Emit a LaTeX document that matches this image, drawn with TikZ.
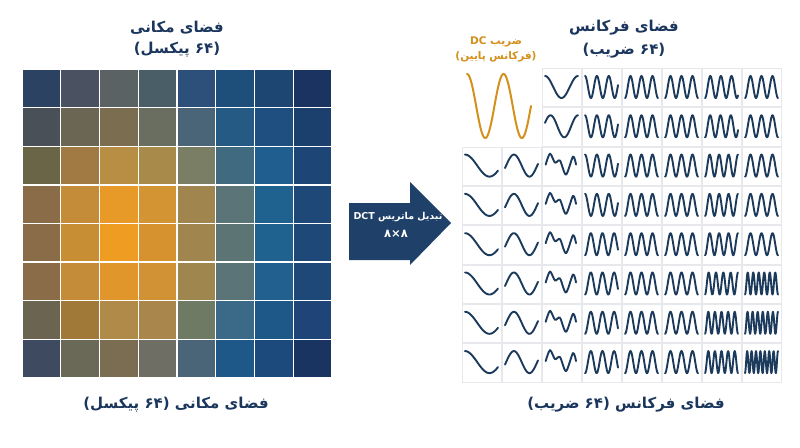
\documentclass[tikz,border=0pt]{standalone}
\usepackage{fontspec}
\TeXXeTstate=1
\newfontfamily\fa[Script=Arabic]{DejaVu Sans}
\definecolor{navy}{HTML}{1B365D}
\definecolor{wavec}{HTML}{1B3A5C}
\definecolor{arrowc}{HTML}{1F4068}
\definecolor{orng}{HTML}{D4901C}
\definecolor{cellb}{HTML}{E6E8EB}
\tikzset{
  title/.style={inner sep=0pt, text=navy, font=\fa\bfseries\fontsize{15}{17}\selectfont},
  dclabel/.style={inner sep=0pt, text=orng, font=\fa\bfseries\fontsize{10.5}{12}\selectfont},
  arrtext/.style={inner sep=0pt, text=white, font=\fa\bfseries\fontsize{9.5}{11}\selectfont},
  wave/.style={draw=wavec, line width=1.9pt, line cap=round, line join=round},
  fcell/.style={draw=cellb, line width=0.8pt, fill=white}
}
\newcommand\wv[4]{%
  \draw[wave] plot[domain=#3:#4, samples=140, smooth] ({462+40*#1+3+(\x-(#3))/((#4)-(#3))*33},{68+39.3*#2+19-11*cos(\x)});}
\newcommand\irr[2]{%
  \draw[wave] plot[smooth] coordinates {({462+40*#1+3.7},{68+39.3*#2+18}) ({462+40*#1+8},{68+39.3*#2+7}) ({462+40*#1+13},{68+39.3*#2+16}) ({462+40*#1+18},{68+39.3*#2+14}) ({462+40*#1+24},{68+39.3*#2+28}) ({462+40*#1+31},{68+39.3*#2+10}) ({462+40*#1+34},{68+39.3*#2+18})};}
\begin{document}
\begin{tikzpicture}[x=1pt,y=-1pt]
\useasboundingbox[fill=white] (0,0) rectangle (800,447);
% left pixel grid
\foreach \rowlist [count=\j from 0] in {
 {2B4262,4A5160,5A6264,4A5E68,2C5079,1E4E7A,1D4673,1A3360},
 {4A5058,6B6554,7A6D50,6A6E60,4A6478,245A84,1F4F80,1C406E},
 {6B6548,A07A42,B88D44,A88A4A,7A7E64,3F6A80,1F5E8E,1D4676},
 {8A6D48,C48C38,E89A28,D39433,A0864E,5A7478,1F6290,1D4878},
 {8A6D48,C88E34,EE9C22,D6922E,A0864E,5C7474,1F6290,1D4878},
 {8A6D48,C48C38,E0962A,D09234,9E864E,5A7478,226090,1D4878},
 {6A6450,A07838,B08A48,A8864C,6E7A64,3A6A88,1D5888,1E4478},
 {3E4A60,6A6856,7A6D52,6E6E64,4A6478,1E5888,1D4A7C,1A3462}} {
  \foreach \c [count=\i from 0] in \rowlist {
    \definecolor{cc}{HTML}{\c}
    \fill[cc] ({22+38.75*\i+0.7},{69+38.6*\j+0.7}) rectangle ++(37.35,37.2);
  }
}
% titles
\node[title] (t1) at (177,28) {\beginR فضای مکانی\endR};
\node[title] (t2) at (177,50) {\beginR (۶۴ پیکسل)\endR};
\node[title] (t3) at (624,28) {\beginR فضای فرکانس\endR};
\node[title] (t4) at (624,51) {\beginR (۶۴ ضریب)\endR};
\node[dclabel] (d1) at (496,42) {\beginR ضریب \beginL DC\endL\endR};
\node[dclabel] (d2) at (496,57) {\beginR (فرکانس پایین)\endR};
\node[title] (b1) at (176,405) {\beginR فضای مکانی (۶۴ پیکسل)\endR};
\node[title] (b2) at (626,405) {\beginR فضای فرکانس (۶۴ ضریب)\endR};
% arrow
\fill[arrowc] (349,203) -- (410,203) -- (410,182) -- (451,223) -- (410,265) -- (410,260) -- (349,260) -- cycle;
\node[arrtext] (a1) at (398,217) {\beginR تبدیل ماتریس \beginL DCT\endL\endR};
\node[arrtext, font=\fa\bfseries\fontsize{11.5}{13}\selectfont] (a2) at (396,234) {\beginR ۸×۸\endR};
% frequency cells
\foreach \j in {0,...,7} {
  \foreach \i in {0,...,7} {
    \pgfmathtruncatemacro\skipc{(\i<2)&&(\j<2)}
    \ifnum\skipc=0
      \draw[fcell] ({462+40*\i+0.5},{68+39.3*\j+0.5}) rectangle ++(39,38.3);
    \fi
  }
}
% DC wave
\draw[draw=orng, line width=2pt, line cap=round] plot[domain=0:630, samples=160, smooth] ({467+\x*0.1016},{106-32*cos(\x)});
% rows 0-1
\wv{2}{0}{0}{360}
\wv{3}{0}{0}{1000}
\wv{4}{0}{180}{1260}
\wv{5}{0}{180}{1260}
\wv{6}{0}{180}{1300}
\wv{7}{0}{180}{1260}
\wv{2}{1}{-72}{360}
\wv{3}{1}{0}{1000}
\wv{4}{1}{180}{1260}
\wv{5}{1}{180}{1260}
\wv{6}{1}{180}{1330}
\wv{7}{1}{180}{1260}
% rows 2-7
\foreach \j in {2,...,7} {
  \wv{0}{\j}{0}{243}
  \wv{1}{\j}{-103}{279}
  \irr{2}{\j}
  \wv{4}{\j}{180}{1260}
  \wv{5}{\j}{180}{1260}
}
\wv{3}{2}{0}{1000}
\wv{3}{3}{0}{1000}
\foreach \j in {4,...,7} {\wv{3}{\j}{180}{1200}}
\wv{6}{2}{180}{1440}
\wv{6}{3}{180}{1440}
\wv{6}{4}{180}{1440}
\wv{6}{5}{180}{1800}
\wv{6}{6}{180}{1980}
\wv{6}{7}{180}{1980}
\wv{7}{2}{180}{1260}
\wv{7}{3}{180}{1260}
\wv{7}{4}{180}{1260}
\wv{7}{5}{180}{2340}
\wv{7}{6}{180}{2520}
\wv{7}{7}{180}{2880}
\end{tikzpicture}
\end{document}
